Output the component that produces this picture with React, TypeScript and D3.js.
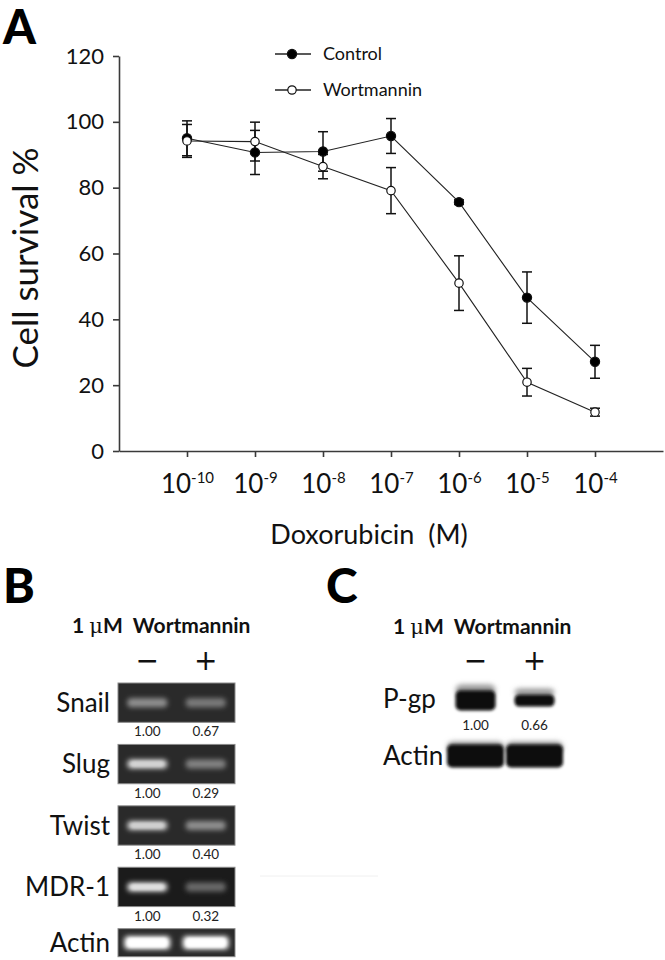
import * as d3 from "d3";
import { useEffect, useRef } from "react";

// panel A: cell survival vs doxorubicin dose
const doses = [1e-10, 1e-9, 1e-8, 1e-7, 1e-6, 1e-5, 1e-4];
const controlMean = [95.0, 90.7, 91.0, 95.7, 75.6, 46.6, 27.1];
const controlErr = [5.3, 6.7, 6.0, 5.3, 0.7, 7.8, 5.0];
const wortMean = [94.2, 94.0, 86.4, 79.1, 51.0, 20.9, 11.8];
const wortErr = [5.0, 5.9, 3.7, 7.0, 8.3, 4.2, 1.2];
const yTicks = [0, 20, 40, 60, 80, 100, 120];

// panel B: RT-PCR gel
const lanes = ["−", "+"];
const genes = ["Snail", "Slug", "Twist", "MDR-1", "Actin"];
const controlRatio = [1.0, 1.0, 1.0, 1.0];
const wortRatio = [0.67, 0.29, 0.4, 0.32];
// perceived band glow (0 = dark, 1 = saturated)
const glowMinus = [0.48, 0.8, 0.78, 0.86, 1.0];
const glowPlus = [0.38, 0.42, 0.48, 0.3, 1.0];

// panel C: western blot
const blots = ["P-gp", "Actin"];
const pgpRatio = [1.0, 0.66];
const actinLoad = [1.0, 1.0];

const FONT = "Lato, 'Open Sans', sans-serif";

export default function App() {
  const svgRef = useRef<SVGSVGElement | null>(null);

  useEffect(() => {
    const svg = d3.select(svgRef.current);
    svg.selectAll("*").remove();
    svg.attr("width", 665).attr("height", 960);

    const defs = svg.append("defs");
    defs.append("filter").attr("id", "glow").attr("x", "-50%").attr("y", "-100%")
      .attr("width", "200%").attr("height", "300%")
      .append("feGaussianBlur").attr("stdDeviation", 2.8);
    defs.append("filter").attr("id", "smudge").attr("x", "-30%").attr("y", "-60%")
      .attr("width", "160%").attr("height", "220%")
      .append("feGaussianBlur").attr("stdDeviation", 1.6);

    svg.append("rect").attr("width", 665).attr("height", 960).attr("fill", "#fff");

    // ---------- Panel A ----------
    const x = d3.scaleLog().domain([1e-11, 1e-3]).range([119, 663]);
    const y = d3.scaleLinear().domain([0, 120]).range([451, 56]);
    const axisColor = "#3a3a3a";

    svg.append("text").text("A").attr("x", 3).attr("y", 44)
      .attr("font-family", FONT).attr("font-weight", 900).attr("font-size", 47);

    const yAxis = svg.append("g").attr("transform", "translate(119,0)")
      .call(d3.axisLeft(y).tickValues(yTicks).tickSize(6).tickSizeOuter(0).tickPadding(9));
    yAxis.selectAll("text").attr("font-family", FONT).attr("font-size", 22).attr("fill", "#111");

    const xAxis = svg.append("g").attr("transform", "translate(0,451)")
      .call(d3.axisBottom(x).tickValues(doses).tickSize(6).tickSizeOuter(0).tickFormat(() => ""));
    xAxis.selectAll(".tick text").remove();
    xAxis.selectAll<SVGGElement, number>(".tick").append("text")
      .attr("y", 42).attr("text-anchor", "middle").attr("fill", "#111")
      .attr("font-family", FONT).attr("font-size", 26)
      .each(function (d) {
        const t = d3.select(this);
        t.append("tspan").text("10");
        t.append("tspan").attr("dy", -10).attr("font-size", 15).text(String(Math.round(Math.log10(d))));
      });

    [yAxis, xAxis].forEach(a => {
      a.selectAll("path, line").attr("stroke", axisColor).attr("stroke-width", 1.6);
    });

    svg.append("text").text("Cell survival %")
      .attr("transform", `translate(38,258) rotate(-90)`)
      .attr("text-anchor", "middle").attr("font-family", FONT).attr("font-size", 35).attr("fill", "#111");

    svg.append("text").text("Doxorubicin  (M)").attr("xml:space", "preserve")
      .attr("x", 369).attr("y", 544).attr("text-anchor", "middle")
      .attr("font-family", FONT).attr("font-size", 27).attr("fill", "#111");

    const series = [
      { name: "Control", mean: controlMean, err: controlErr, fill: "#000", r: 4.6 },
      { name: "Wortmannin", mean: wortMean, err: wortErr, fill: "#fff", r: 4.2 },
    ];
    const line = d3.line<[number, number]>().x(d => x(d[0])).y(d => y(d[1]));

    series.forEach(s => {
      const pts = doses.map((d, i) => [d, s.mean[i]] as [number, number]);
      svg.append("path").attr("d", line(pts)).attr("fill", "none")
        .attr("stroke", "#222").attr("stroke-width", 1.1);
    });
    series.forEach(s => {
      const g = svg.append("g").attr("stroke", "#111").attr("stroke-width", 1.5);
      doses.forEach((d, i) => {
        const cx = x(d);
        const top = y(s.mean[i] + s.err[i]);
        const bot = y(s.mean[i] - s.err[i]);
        g.append("line").attr("x1", cx).attr("x2", cx).attr("y1", top).attr("y2", bot);
        g.append("line").attr("x1", cx - 5).attr("x2", cx + 5).attr("y1", top).attr("y2", top);
        g.append("line").attr("x1", cx - 5).attr("x2", cx + 5).attr("y1", bot).attr("y2", bot);
      });
    });
    series.forEach(s => {
      svg.append("g").selectAll("circle").data(doses).join("circle")
        .attr("cx", d => x(d)).attr("cy", (_, i) => y(s.mean[i]))
        .attr("r", s.r).attr("fill", s.fill).attr("stroke", "#111").attr("stroke-width", 1.2);
    });

    // legend
    const leg = svg.append("g");
    series.forEach((s, i) => {
      const ly = 54 + i * 36;
      leg.append("line").attr("x1", 275).attr("x2", 311).attr("y1", ly).attr("y2", ly)
        .attr("stroke", "#222").attr("stroke-width", 1.4);
      leg.append("circle").attr("cx", 292).attr("cy", ly).attr("r", s.r)
        .attr("fill", s.fill).attr("stroke", "#111").attr("stroke-width", 1.2);
      leg.append("text").text(s.name).attr("x", 323).attr("y", ly + 6)
        .attr("font-family", FONT).attr("font-size", 18).attr("fill", "#111");
    });

    // ---------- shared header helper ----------
    const header = (x0: number, yb: number, cx: (l: string) => number) => {
      const t = svg.append("text").attr("x", x0).attr("y", yb)
        .attr("font-family", FONT).attr("font-weight", 700).attr("font-size", 21).attr("fill", "#111");
      t.append("tspan").text("1 ");
      t.append("tspan").attr("font-family", "'DejaVu Serif', serif").attr("font-weight", 400).text("μ");
      t.append("tspan").text("M");
      t.append("tspan").attr("dx", 10).text("Wortmannin");
      lanes.forEach(l => {
        svg.append("text").text(l).attr("x", cx(l)).attr("y", 670).attr("text-anchor", "middle")
          .attr("font-family", "'DejaVu Sans', sans-serif").attr("font-size", 28).attr("fill", "#111");
      });
    };

    // ---------- Panel B ----------
    svg.append("text").text("B").attr("x", 3).attr("y", 603)
      .attr("font-family", FONT).attr("font-weight", 900).attr("font-size", 48);

    const laneB = d3.scaleBand<string>().domain(lanes).range([118, 235]);
    const rowB = d3.scaleBand<string>().domain(genes).range([683, 968]).paddingInner(0.36).paddingOuter(0);
    header(72, 633, l => laneB(l)! + laneB.bandwidth() / 2);

    const fmt = d3.format(".2f");
    genes.forEach((g, i) => {
      const isLoad = i === genes.length - 1;
      const top = rowB(g)!;
      const h = isLoad ? 28 : rowB.bandwidth();
      const mid = top + h / 2;
      svg.append("rect").attr("x", 118).attr("y", top).attr("width", 117).attr("height", h)
        .attr("fill", i === 3 ? "#1b1b1b" : "#2a2a2a").attr("stroke", "#8a8a8a").attr("stroke-width", 1);
      svg.append("text").text(g).attr("x", 110).attr("y", mid).attr("dy", "0.36em")
        .attr("text-anchor", "end").attr("font-family", FONT).attr("font-size", 26).attr("fill", "#111");
      [glowMinus[i], glowPlus[i]].forEach((v, j) => {
        const cx = laneB(lanes[j])! + laneB.bandwidth() / 2;
        const bw = isLoad ? 46 : 40;
        const bh = isLoad ? 13 : 9;
        const c = d3.interpolateRgb("#2a2a2a", "#ffffff")(v);
        svg.append("rect").attr("x", cx - bw / 2).attr("y", mid - bh / 2)
          .attr("width", bw).attr("height", bh).attr("rx", 4)
          .attr("fill", c).attr("filter", "url(#glow)");
        if (v > 0.7) {
          svg.append("rect").attr("x", cx - bw / 2 + 4).attr("y", mid - bh / 2 + 2)
            .attr("width", bw - 8).attr("height", bh - 4).attr("rx", 2)
            .attr("fill", c).attr("filter", "url(#smudge)");
        }
      });
      if (!isLoad) {
        [controlRatio[i], wortRatio[i]].forEach((v, j) => {
          svg.append("text").text(fmt(v))
            .attr("x", laneB(lanes[j])! + laneB.bandwidth() / 2).attr("y", top + h + 14)
            .attr("text-anchor", "middle").attr("font-family", FONT).attr("font-size", 13.5).attr("fill", "#222");
        });
      }
    });
    // faint scan artefact next to the gel
    svg.append("line").attr("x1", 260).attr("x2", 378).attr("y1", 876).attr("y2", 876)
      .attr("stroke", "#f0f0f0").attr("stroke-width", 1);

    // ---------- Panel C ----------
    svg.append("text").text("C").attr("x", 326).attr("y", 603)
      .attr("font-family", FONT).attr("font-weight", 900).attr("font-size", 48);

    const laneC = d3.scaleBand<string>().domain(lanes).range([446, 564]);
    header(393, 634, l => laneC(l)! + laneC.bandwidth() / 2);

    const thick = d3.scaleLinear().domain([0, 1]).range([0, 23]);
    const rowC = d3.scalePoint<string>().domain(blots).range([699, 756]);

    blots.forEach((b, i) => {
      const mid = rowC(b)!;
      svg.append("text").text(b).attr("x", 383).attr("y", mid).attr("dy", "0.36em")
        .attr("font-family", FONT).attr("font-size", 26).attr("fill", "#111");
      const vals = i === 0 ? pgpRatio : actinLoad;
      vals.forEach((v, j) => {
        const cx = laneC(lanes[j])! + laneC.bandwidth() / 2;
        const h = thick(v);
        const w = i === 0 ? 40 : laneC.bandwidth() - 2;
        svg.append("rect").attr("x", cx - w / 2).attr("y", mid - h / 2 - 3)
          .attr("width", w).attr("height", h * 0.5).attr("rx", 6)
          .attr("fill", "#9a9a9a").attr("filter", "url(#glow)");
        svg.append("rect").attr("x", cx - w / 2).attr("y", mid - h / 2 + (i === 0 ? 3 : 0))
          .attr("width", w).attr("height", h - (i === 0 ? 3 : 0)).attr("rx", 5)
          .attr("fill", "#0a0a0a").attr("filter", "url(#smudge)");
        if (i === 0) {
          svg.append("text").text(fmt(v)).attr("x", cx).attr("y", mid + 31)
            .attr("text-anchor", "middle").attr("font-family", FONT).attr("font-size", 13.5).attr("fill", "#222");
        }
      });
    });
  }, []);

  return (
    <div style={{ position: "absolute", left: 0, top: 0 }}>
      <svg ref={svgRef} style={{ display: "block" }} />
    </div>
  );
}
